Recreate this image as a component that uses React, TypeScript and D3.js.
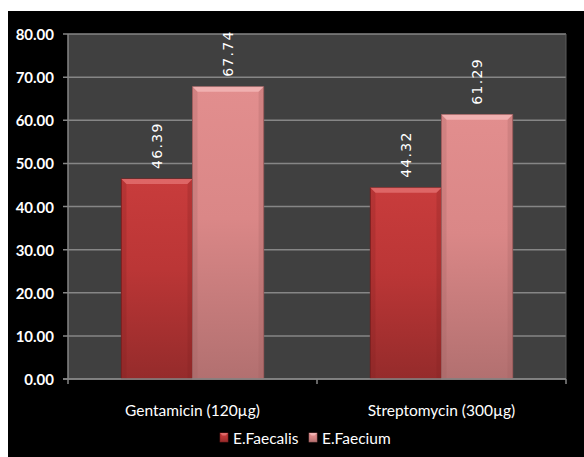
import React from "react";
import * as d3 from "d3";

const categories = ["Gentamicin (120µg)", "Streptomycin (300µg)"];
const seriesNames = ["E.Faecalis", "E.Faecium"];
const faecalis = [46.39, 44.32];
const faecium = [67.74, 61.29];
const yTicks = [0, 10, 20, 30, 40, 50, 60, 70, 80];

const colors = [
  { top: "#c83c3c", mid: "#bb3636", bottom: "#952b2b", hi: "#e06a6a", edge: "#7e2020" },
  { top: "#e28e8e", mid: "#da8787", bottom: "#b27070", hi: "#f2b4b4", edge: "#9e5e5e" },
];

export default function App() {
  const W = 584, H = 457;
  const left = 68, right = 566, top = 34, bottom = 379;
  const y = d3.scaleLinear().domain([0, 80]).range([bottom, top]);
  const x0 = d3.scaleBand<string>().domain(categories).range([left, right]).paddingInner(0).paddingOuter(0);
  const x1 = d3.scaleBand<string>().domain(seriesNames).range([0, x0.bandwidth()]).paddingInner(0).paddingOuter(0.75);
  const values = [faecalis, faecium];
  const fmt = d3.format(".2f");
  const axisFont = "Lato, 'Open Sans', sans-serif";
  const legendX = [220, 309];

  return (
    <svg width={W} height={H} style={{ position: "absolute", left: 0, top: 0 }}>
      <defs>
        {colors.map((c, i) => (
          <linearGradient key={i} id={`g${i}`} x1="0" y1="0" x2="0" y2="1">
            <stop offset="0" stopColor={c.top} />
            <stop offset="0.45" stopColor={c.mid} />
            <stop offset="1" stopColor={c.bottom} />
          </linearGradient>
        ))}
      </defs>
      <rect x={0} y={0} width={W} height={H} fill="#ffffff" />
      <rect x={8} y={11} width={W - 8} height={H - 11} fill="#000000" />
      <rect x={left} y={top} width={right - left} height={bottom - top} fill="#404040" />
      {yTicks.map((t) => (
        <g key={t}>
          <line x1={left - 5} x2={right} y1={y(t)} y2={y(t)} stroke="#868686" strokeWidth={1.5} />
          <text x={54} y={y(t) + 6} textAnchor="end" fill="#ffffff" fontFamily={axisFont} fontWeight="bold" fontSize={15}>
            {fmt(t)}
          </text>
        </g>
      ))}
      <line x1={left} x2={left} y1={top} y2={bottom} stroke="#868686" strokeWidth={1.5} />
      <line x1={right} x2={right} y1={top} y2={bottom} stroke="#5a5a5a" strokeWidth={1} />
      {categories.map((c, ci) =>
        seriesNames.map((s, si) => {
          const v = values[si][ci];
          const bx = (x0(c) as number) + (x1(s) as number);
          const bw = x1.bandwidth();
          const by = y(v);
          const bh = bottom - by;
          const col = colors[si];
          const bev = 5;
          return (
            <g key={c + s}>
              <rect x={bx} y={by} width={bw} height={bh} fill={`url(#g${si})`} stroke={col.edge} strokeWidth={1} />
              <polygon
                points={`${bx},${by} ${bx + bw},${by} ${bx + bw - bev},${by + bev} ${bx + bev},${by + bev}`}
                fill={col.hi}
                opacity={0.9}
              />
              <polygon
                points={`${bx},${by} ${bx + bev},${by + bev} ${bx + bev},${bottom} ${bx},${bottom}`}
                fill={col.edge}
                opacity={0.25}
              />
              <polygon
                points={`${bx + bw},${by} ${bx + bw - bev},${by + bev} ${bx + bw - bev},${bottom} ${bx + bw},${bottom}`}
                fill={col.edge}
                opacity={0.25}
              />
              <text
                transform={`translate(${bx + bw / 2},${by - 10}) rotate(-90)`}
                dy="0.36em"
                textAnchor="start"
                fill="#ffffff"
                fontFamily="'DejaVu Sans', sans-serif"
                fontSize={14}
                letterSpacing={1.3}
              >
                {fmt(v)}
              </text>
            </g>
          );
        })
      )}
      <line x1={left - 5} x2={right} y1={bottom} y2={bottom} stroke="#868686" strokeWidth={1.5} />
      {[0, 1, 2].map((i) => (
        <line key={i} x1={left + i * x0.step()} x2={left + i * x0.step()} y1={bottom} y2={bottom + 5} stroke="#868686" strokeWidth={1.5} />
      ))}
      {categories.map((c) => (
        <text key={c} x={(x0(c) as number) + x0.bandwidth() / 2} y={416} textAnchor="middle" fill="#ffffff" fontFamily={axisFont} fontSize={15.5}>
          {c}
        </text>
      ))}
      {seriesNames.map((s, i) => {
        const lx = legendX[i];
        const col = colors[i];
        return (
          <g key={s}>
            <rect x={lx} y={433} width={8} height={9} fill={`url(#g${i})`} stroke={col.edge} strokeWidth={0.6} />
            <polygon points={`${lx},433 ${lx + 8},433 ${lx + 5.5},435.5 ${lx + 2.5},435.5`} fill={col.hi} />
            <text x={lx + 13} y={444} fill="#ffffff" fontFamily={axisFont} fontSize={15.5}>
              {s}
            </text>
          </g>
        );
      })}
    </svg>
  );
}
